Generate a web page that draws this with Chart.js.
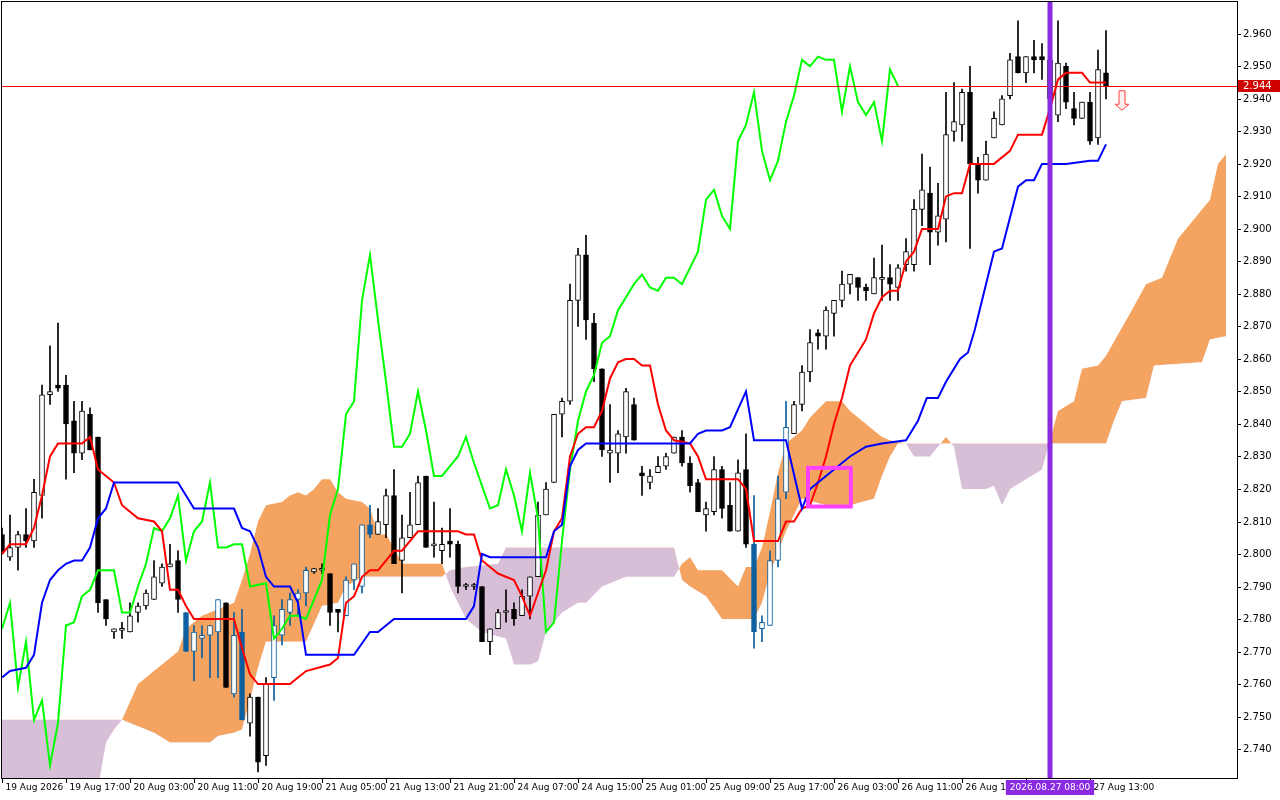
<!DOCTYPE html>
<html><head><meta charset="utf-8">
<script src="https://cdn.jsdelivr.net/npm/chart.js@4.4.1/dist/chart.umd.min.js"></script>
<style>html,body{margin:0;padding:0;background:#fff}#c{display:block}</style>
</head><body><canvas id="c" width="1280" height="800"></canvas>
<script>
const opens=[2.806,2.799,2.802,2.806,2.804,2.818,2.849,2.852,2.852,2.841,2.831,2.843,2.836,2.786,2.776,2.7765,2.776,2.782,2.784,2.786,2.791,2.796,2.798,2.782,2.770,2.774,2.775,2.776,2.785,2.757,2.776,2.748,2.756,2.738,2.762,2.775,2.782,2.786,2.788,2.7945,2.795,2.794,2.783,2.781,2.792,2.790,2.809,2.806,2.809,2.818,2.798,2.805,2.809,2.824,2.8025,2.801,2.804,2.803,2.790,2.790,2.790,2.773,2.777,2.782,2.783,2.781,2.787,2.793,2.812,2.822,2.843,2.847,2.878,2.892,2.871,2.857,2.831,2.831,2.836,2.846,2.825,2.822,2.825,2.827,2.831,2.836,2.828,2.822,2.812,2.813,2.826,2.815,2.807,2.826,2.803,2.777,2.778,2.798,2.819,2.837,2.846,2.856,2.868,2.867,2.874,2.878,2.883,2.885,2.882,2.880,2.8845,2.885,2.882,2.889,2.889,2.906,2.911,2.899,2.903,2.930,2.932,2.942,2.920,2.915,2.928,2.932,2.941,2.953,2.948,2.953,2.953,2.952,2.935,2.950,2.937,2.934,2.939,2.928,2.948];
const highs=[2.808,2.812,2.807,2.814,2.823,2.852,2.864,2.871,2.855,2.847,2.847,2.845,2.836,2.786,2.777,2.779,2.785,2.785,2.789,2.798,2.797,2.803,2.801,2.782,2.778,2.778,2.778,2.786,2.785,2.782,2.783,2.757,2.756,2.762,2.781,2.786,2.788,2.789,2.796,2.7955,2.797,2.794,2.783,2.793,2.797,2.809,2.815,2.814,2.820,2.826,2.812,2.819,2.824,2.824,2.816,2.808,2.814,2.804,2.791,2.791,2.790,2.777,2.783,2.789,2.785,2.789,2.793,2.816,2.822,2.843,2.848,2.883,2.894,2.898,2.874,2.857,2.846,2.838,2.851,2.848,2.827,2.826,2.830,2.831,2.836,2.838,2.830,2.823,2.816,2.830,2.827,2.822,2.829,2.837,2.818,2.781,2.801,2.824,2.847,2.847,2.858,2.869,2.869,2.876,2.878,2.887,2.886,2.885,2.883,2.891,2.895,2.889,2.889,2.897,2.909,2.923,2.919,2.914,2.942,2.945,2.943,2.950,2.922,2.927,2.936,2.941,2.954,2.964,2.953,2.958,2.957,2.953,2.964,2.951,2.942,2.939,2.942,2.955,2.961];
const lows=[2.800,2.798,2.795,2.802,2.802,2.811,2.846,2.850,2.823,2.825,2.829,2.832,2.782,2.778,2.774,2.774,2.776,2.779,2.783,2.786,2.790,2.796,2.782,2.770,2.761,2.768,2.762,2.762,2.759,2.756,2.749,2.744,2.733,2.735,2.755,2.772,2.778,2.781,2.784,2.794,2.794,2.778,2.776,2.781,2.789,2.788,2.805,2.806,2.805,2.797,2.788,2.805,2.809,2.802,2.799,2.797,2.799,2.788,2.789,2.789,2.773,2.769,2.777,2.779,2.778,2.781,2.780,2.793,2.812,2.822,2.836,2.846,2.870,2.866,2.853,2.830,2.822,2.825,2.831,2.835,2.818,2.820,2.825,2.826,2.831,2.827,2.819,2.813,2.807,2.812,2.811,2.807,2.807,2.802,2.771,2.773,2.778,2.796,2.817,2.837,2.844,2.853,2.863,2.863,2.867,2.876,2.880,2.878,2.878,2.880,2.878,2.878,2.878,2.887,2.887,2.901,2.889,2.895,2.896,2.927,2.927,2.894,2.911,2.915,2.928,2.932,2.940,2.948,2.945,2.948,2.946,2.938,2.933,2.937,2.932,2.934,2.926,2.926,2.940];
const closes=[2.801,2.802,2.806,2.804,2.819,2.849,2.850,2.851,2.840,2.831,2.844,2.832,2.785,2.780,2.777,2.777,2.781,2.784,2.788,2.793,2.796,2.797,2.786,2.770,2.776,2.775,2.778,2.786,2.759,2.775,2.749,2.756,2.736,2.760,2.778,2.783,2.786,2.788,2.795,2.7955,2.7955,2.782,2.782,2.792,2.797,2.809,2.806,2.810,2.818,2.797,2.805,2.809,2.822,2.802,2.8025,2.803,2.803,2.790,2.790,2.790,2.773,2.777,2.782,2.782,2.780,2.787,2.793,2.812,2.820,2.843,2.847,2.878,2.892,2.872,2.857,2.832,2.832,2.837,2.850,2.835,2.824,2.824,2.827,2.830,2.836,2.828,2.821,2.813,2.814,2.826,2.814,2.807,2.825,2.803,2.776,2.779,2.798,2.817,2.839,2.846,2.856,2.865,2.867,2.875,2.878,2.883,2.886,2.882,2.881,2.885,2.885,2.883,2.888,2.893,2.906,2.912,2.899,2.904,2.929,2.933,2.942,2.920,2.915,2.923,2.934,2.940,2.952,2.948,2.953,2.952,2.952,2.940,2.951,2.939,2.934,2.939,2.927,2.949,2.944];

const tenkanX=[0,1,3,4,5,6,7,10,11,12,14,15,17,19,20,21,22,23,24,29,30,31,32,36,37,38,41,42,43,44,45,46,47,48,49,50,51,52,57,58,59,60,61,62,64,65,66,67,68,69,70,71,72,73,74,75,76,77,78,79,80,81,82,83,84,86,87,88,92,93,94,97,98,99,100,101,102,103,104,105,106,107,108,109,110,111,112,113,114,115,117,118,119,120,121,124,126,127,130,131,132,133,135,136,138];
const tenkanY=[2.800,2.803,2.803,2.808,2.818,2.830,2.834,2.834,2.836,2.826,2.822,2.815,2.811,2.810,2.807,2.789,2.789,2.784,2.780,2.780,2.771,2.763,2.760,2.760,2.762,2.764,2.766,2.768,2.785,2.787,2.793,2.795,2.795,2.798,2.801,2.801,2.804,2.807,2.807,2.806,2.806,2.798,2.796,2.794,2.792,2.787,2.781,2.788,2.795,2.807,2.811,2.830,2.837,2.839,2.839,2.844,2.854,2.859,2.860,2.860,2.858,2.858,2.846,2.838,2.835,2.834,2.830,2.823,2.823,2.820,2.804,2.804,2.810,2.810,2.814,2.815,2.822,2.830,2.840,2.848,2.858,2.862,2.866,2.874,2.879,2.881,2.881,2.890,2.893,2.900,2.900,2.910,2.911,2.911,2.920,2.920,2.924,2.929,2.929,2.937,2.946,2.948,2.948,2.945,2.945];
const kijunX=[0,1,3,4,5,6,7,8,9,10,11,12,13,14,22,24,29,30,31,32,33,34,36,37,38,44,46,47,49,58,59,60,61,68,69,70,71,72,73,86,87,88,90,91,93,94,98,100,101,102,104,106,108,110,113,114.5,115.6,117,118,119.75,120.75,121.6,122.6,124,125,127,128,129,130,133,136,137,138];
const kijunY=[2.762,2.764,2.765,2.769,2.785,2.792,2.795,2.797,2.798,2.798,2.802,2.811,2.814,2.822,2.822,2.814,2.814,2.808,2.807,2.802,2.793,2.790,2.790,2.785,2.769,2.769,2.776,2.776,2.780,2.780,2.784,2.800,2.799,2.799,2.807,2.809,2.827,2.832,2.834,2.834,2.837,2.838,2.838,2.839,2.850,2.835,2.835,2.814,2.820,2.822,2.826,2.830,2.833,2.834,2.835,2.841,2.848,2.848,2.853,2.860,2.862,2.869,2.879,2.893,2.894,2.913,2.915,2.915,2.920,2.920,2.921,2.921,2.926];
const chikouX=[0,1,2,3,4,5,6,7,8,9,10,11,12,14,15,16,17,18,19,20,21,22,23,24,25,26,27,28,29,30,31,33,34,35,36,37,38,39,40,41,42,43,44,45,46,47,48,49,50,51,52,53,54,55,56,57,58,59,60,61,62,63,64,65,66,67,68,69,70,71,72,73,74,75,76,77,78,79,80,81,82,83,84,85,86,87,88,89,90,91,92,93,94,95,96,97,98,99,100,101,102,103,104,105,106,107,108,109,110,111,112];
const chikouY=[2.777,2.785,2.759,2.773,2.749,2.755,2.735,2.748,2.778,2.779,2.787,2.789,2.795,2.795,2.782,2.782,2.790,2.797,2.808,2.807,2.811,2.818,2.798,2.807,2.810,2.822,2.802,2.802,2.803,2.803,2.790,2.791,2.774,2.777,2.781,2.781,2.780,2.786,2.792,2.812,2.820,2.843,2.847,2.878,2.892,2.872,2.853,2.833,2.833,2.837,2.850,2.838,2.824,2.824,2.827,2.830,2.836,2.828,2.821,2.814,2.815,2.826,2.818,2.807,2.825,2.811,2.776,2.779,2.804,2.826,2.841,2.850,2.855,2.865,2.867,2.875,2.879,2.883,2.886,2.882,2.881,2.885,2.885,2.883,2.888,2.893,2.909,2.912,2.904,2.900,2.927,2.932,2.942,2.924,2.915,2.921,2.933,2.941,2.952,2.950,2.953,2.952,2.952,2.936,2.950,2.939,2.935,2.939,2.927,2.949,2.944];
const spanAX=[0,12,13,14,15,17,18,20,22,23,25,28,29,30,31,32,33,35,36,37,38,39,40,41,42,43,45,46,47,48,49,50,55,56,58,60,63,64,66,67,68,69,70,72,73,75,78,84,85,86,87,90,92,93,94,95,96,97,98,100,101,103,105,106,108,110,111,113,114,116,117,118,119,120,123,124,125,126,128,130,131,132,134,135,137,138,141,143,145,147,149,151,152,153];
const spanAY=[2.728,2.728,2.742,2.746,2.749,2.760,2.762,2.766,2.770,2.777,2.781,2.784,2.785,2.792,2.800,2.810,2.815,2.816,2.818,2.819,2.818,2.820,2.823,2.823,2.819,2.817,2.816,2.814,2.806,2.806,2.802,2.797,2.797,2.790,2.780,2.776,2.774,2.766,2.766,2.767,2.776,2.779,2.782,2.785,2.785,2.790,2.793,2.793,2.797,2.799,2.795,2.795,2.790,2.796,2.796,2.802,2.813,2.825,2.834,2.838,2.842,2.847,2.847,2.844,2.840,2.836,2.835,2.834,2.830,2.830,2.833,2.836,2.833,2.820,2.820,2.821,2.815,2.820,2.823,2.826,2.835,2.844,2.847,2.857,2.858,2.861,2.874,2.883,2.885,2.897,2.903,2.909,2.920,2.923];
const spanBX=[0,15,17,19,21,26,27,29,30,31,32,33,38,40,42,43,45,55,56,58,62,63,84,85,86,88,90,94,95,96,98,100,103,106,109,110,111,112,138,139,140,143,144,150,151,153];
const spanBY=[2.749,2.749,2.747,2.745,2.742,2.742,2.744,2.745,2.746,2.755,2.765,2.773,2.773,2.784,2.785,2.790,2.793,2.793,2.795,2.796,2.797,2.802,2.802,2.792,2.790,2.787,2.780,2.780,2.785,2.794,2.807,2.817,2.815,2.815,2.817,2.824,2.830,2.834,2.834,2.841,2.847,2.848,2.858,2.859,2.866,2.867];
const tickIdx=[0,8,16,24,32,40,48,56,64,72,80,88,96,104,112,120,128,136];
const tickLabels=['19 Aug 2026','19 Aug 17:00','20 Aug 03:00','20 Aug 11:00','20 Aug 19:00','21 Aug 05:00','21 Aug 13:00','21 Aug 21:00','24 Aug 07:00','24 Aug 15:00','25 Aug 01:00','25 Aug 09:00','25 Aug 17:00','26 Aug 03:00','26 Aug 11:00','26 Aug 19:00','27 Aug 05:00','27 Aug 13:00'];
const yTicks=[2.74,2.75,2.76,2.77,2.78,2.79,2.80,2.81,2.82,2.83,2.84,2.85,2.86,2.87,2.88,2.89,2.90,2.91,2.92,2.93,2.94,2.95,2.96];
const lastPrice=2.944, cursorIdx=131, cursorLabel='2026.08.27 08:00';
const blueIdx=[23,24,25,26,27,29,30,34,35,36,37,38,43,44,45,46,94,95,96,97,98];

const pts=(xs,ys)=>xs.map((x,i)=>({x,y:ys[i]}));
const idx=opens.map((_,i)=>i);
const isBlue=i=>blueIdx.includes(i);
const up=i=>closes[i]>=opens[i];
const BLUE='#0b5fa0';
const FONT='10px "DejaVu Sans"', XFONT='9px "DejaVu Sans"';

const lineDs=(label,xs,ys,color)=>({type:'line',label,data:pts(xs,ys),borderColor:color,borderWidth:2,pointRadius:0,tension:0,fill:false,order:1});

const overlay={id:'overlay',
 beforeDraw(c){const g=c.ctx;g.save();g.fillStyle='#fff';g.fillRect(0,0,c.width,c.height);g.restore();},
 afterDatasetsDraw(c){const g=c.ctx,a=c.chartArea,x=c.scales.x,y=c.scales.y;g.save();
  const py=Math.round(y.getPixelForValue(lastPrice));
  g.fillStyle='#ff0000';g.fillRect(a.left,py,a.right-a.left,1);
  const x1=x.getPixelForValue(100.75),x2=x.getPixelForValue(106.1),y1=y.getPixelForValue(2.8265),y2=y.getPixelForValue(2.8146);
  g.strokeStyle='#ff40ff';g.lineWidth=4;g.strokeRect(x1,y1,x2-x1,y2-y1);
  const ax=x.getPixelForValue(140),at=y.getPixelForValue(2.9425),ab=y.getPixelForValue(2.9365);
  g.strokeStyle='#ff4040';g.fillStyle='#fff0f0';g.lineWidth=1;g.beginPath();
  g.moveTo(ax-3,at);g.lineTo(ax+3,at);g.lineTo(ax+3,ab-6);g.lineTo(ax+7,ab-6);g.lineTo(ax,ab);g.lineTo(ax-7,ab-6);g.lineTo(ax-3,ab-6);g.closePath();g.fill();g.stroke();
  const cx=x.getPixelForValue(cursorIdx);
  g.fillStyle='#8a2be2';g.fillRect(cx-2.5,a.top,5,a.bottom-a.top);
  g.strokeStyle='#000';g.lineWidth=1;g.strokeRect(a.left-0.5,a.top-0.5,a.right-a.left+1,a.bottom-a.top+1);
  g.restore();},
 afterDraw(c){const g=c.ctx,a=c.chartArea,x=c.scales.x,y=c.scales.y;g.save();
  g.font=FONT;g.fillStyle='#000';g.strokeStyle='#000';g.lineWidth=1;
  g.textBaseline='middle';g.textAlign='left';
  yTicks.forEach(v=>{const p=Math.round(y.getPixelForValue(v))+0.5;g.beginPath();g.moveTo(a.right,p);g.lineTo(a.right+4,p);g.stroke();g.fillText(v.toFixed(3),a.right+6,p);});
  g.textBaseline='top';g.font=XFONT;
  tickIdx.forEach((v,k)=>{const p=Math.round(x.getPixelForValue(v))+0.5;g.beginPath();g.moveTo(p,a.bottom);g.lineTo(p,a.bottom+5);g.stroke();g.fillText(tickLabels[k],p+3,a.bottom+5);});
  g.textBaseline='middle';g.font=FONT;
  const py=Math.round(y.getPixelForValue(lastPrice));
  g.fillStyle='#d00000';g.fillRect(a.right+1,py-6,42,12);g.fillStyle='#fff';g.fillText(lastPrice.toFixed(3),a.right+6,py);
  g.font=XFONT;
  const cx=x.getPixelForValue(cursorIdx);const w=g.measureText(cursorLabel).width+8;
  g.fillStyle='#8a2be2';g.fillRect(cx-w/2,a.bottom+2,w,15);g.fillStyle='#fff';g.textAlign='center';g.fillText(cursorLabel,cx,a.bottom+10);
  g.restore();}
};

new Chart(document.getElementById('c'),{
 data:{datasets:[
  {type:'line',label:'spanA',data:pts(spanAX,spanAY),borderWidth:0,borderColor:'rgba(0,0,0,0)',pointRadius:0,tension:0,fill:{target:1,above:'#f4a460',below:'#d8bfd8'},order:10},
  {type:'line',label:'spanB',data:pts(spanBX,spanBY),borderWidth:0,borderColor:'rgba(0,0,0,0)',pointRadius:0,tension:0,fill:false,order:10},
  {type:'bar',label:'wick',data:idx.map(i=>({x:i,y:[lows[i],highs[i]]})),backgroundColor:idx.map(i=>isBlue(i)?BLUE:'#000'),barThickness:1,grouped:false,order:5},
  {type:'bar',label:'body',data:idx.map(i=>({x:i,y:[opens[i],closes[i]]})),backgroundColor:idx.map(i=>up(i)?'#fff':(isBlue(i)?BLUE:'#000')),borderColor:idx.map(i=>isBlue(i)?BLUE:'#000'),borderWidth:1,borderSkipped:false,minBarLength:2,barThickness:5,grouped:false,order:4},
  lineDs('Kijun',kijunX,kijunY,'#0000ff'),
  lineDs('Tenkan',tenkanX,tenkanY,'#ff0000'),
  lineDs('Chikou',chikouX,chikouY,'#00ff00')
 ]},
 options:{responsive:false,animation:false,events:[],
  layout:{padding:{left:2,top:2,right:0,bottom:0}},
  plugins:{legend:{display:false},tooltip:{enabled:false}},
  scales:{
   x:{type:'linear',min:0,max:154.375,offset:false,position:'bottom',
    afterFit:s=>{s.height=22;},
    ticks:{display:false},grid:{display:false},border:{display:false}},
   y:{type:'linear',position:'right',min:2.7311,max:2.9698,
    afterFit:s=>{s.width=43;},
    ticks:{display:false},grid:{display:false},border:{display:false}}
  }},
 plugins:[overlay]
});
</script></body></html>
